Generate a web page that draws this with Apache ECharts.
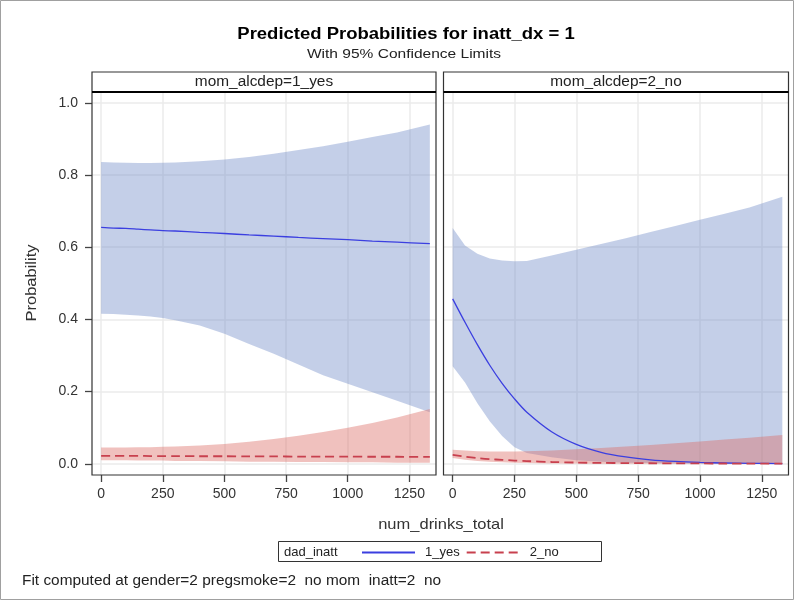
<!DOCTYPE html>
<html>
<head>
<meta charset="utf-8">
<script src="https://cdn.jsdelivr.net/npm/echarts@6/dist/echarts.min.js"></script>
<style>
html,body{margin:0;padding:0;background:#fff;}
#c{width:794px;height:600px;}
</style>
</head>
<body>
<div id="c"></div>
<script>
// ---- data ----
var xs = [0, 50, 100, 150, 200, 250, 300, 400, 500, 600, 700, 800, 900, 1000, 1100, 1200, 1333];
var panels = ['mom_alcdep=1_yes', 'mom_alcdep=2_no'];
var groups = ['1_yes', '2_no'];
var xTicks = [0, 250, 500, 750, 1000, 1250];
var yTicks = [0, 0.2, 0.4, 0.6, 0.8, 1.0];

// panel 1: mom_alcdep=1_yes
var yesFitA   = [.655,.653,.652,.650,.648,.646,.645,.641,.638,.634,.631,.627,.624,.621,.617,.614,.610];
var yesUpperA = [.836,.835,.834,.833,.833,.834,.835,.838,.843,.850,.859,.869,.880,.892,.905,.918,.940];
var yesLowerA = [.416,.415,.413,.411,.408,.404,.398,.383,.360,.332,.305,.275,.245,.222,.198,.175,.143];
var noFitA    = [.022,.022,.022,.022,.0215,.0215,.0215,.021,.021,.0205,.0205,.020,.020,.020,.0195,.0195,.019];
var noUpperA  = [.045,.045,.045,.046,.046,.047,.048,.051,.055,.061,.069,.078,.088,.100,.113,.128,.152];
var noLowerA  = [.010,.010,.010,.009,.009,.009,.008,.008,.007,.006,.006,.005,.005,.004,.004,.003,.003];

// panel 2: mom_alcdep=2_no
var yesFitB   = [.457,.392,.330,.273,.223,.180,.143,.089,.054,.032,.019,.011,.0065,.0038,.0022,.0013,.0006];
var yesUpperB = [.653,.605,.582,.569,.563,.561,.562,.577,.593,.609,.625,.642,.659,.676,.693,.710,.740];
var yesLowerB = [.270,.225,.168,.118,.077,.046,.030,.018,.010,.006,.003,.002,.001,.0006,.0003,.0002,.0001];
var noFitB    = [.025,.020,.016,.013,.011,.009,.0075,.005,.0035,.0025,.002,.0015,.0012,.001,.0008,.0007,.0005];
var noUpperB  = [.039,.037,.035,.034,.034,.034,.035,.037,.040,.044,.048,.052,.057,.062,.067,.072,.080];
var noLowerB  = [.016,.011,.008,.006,.004,.003,.002,.001,.0006,.0003,.0002,.0001,0,0,0,0,0];

var FONT = '"Liberation Sans", Arial, sans-serif';
var BLUE_LINE = '#3b3fe0';
var RED_LINE = '#c8404e';
var BLUE_BAND = 'rgba(115,141,200,0.42)';
var RED_BAND = 'rgba(219,107,100,0.42)';

function pairs(y) { return xs.map(function (x, i) { return [x, y[i]]; }); }

function band(name, idx, lower, upper, color) {
  return {
    type: 'custom', name: name, xAxisIndex: idx, yAxisIndex: idx, silent: true,
    data: [0],
    renderItem: function (params, api) {
      var pts = [];
      for (var i = 0; i < xs.length; i++) pts.push(api.coord([xs[i], upper[i]]));
      for (var j = xs.length - 1; j >= 0; j--) pts.push(api.coord([xs[j], lower[j]]));
      return { type: 'polygon', shape: { points: pts }, style: { fill: color }, silent: true };
    },
    z: 1
  };
}

function fit(name, idx, y, color, dashed) {
  return {
    type: 'line', name: name, xAxisIndex: idx, yAxisIndex: idx,
    data: pairs(y), showSymbol: false, symbol: 'none', smooth: 0.3,
    lineStyle: { color: color, width: dashed ? 1.8 : 1.3, type: dashed ? [9, 5] : 'solid' },
    itemStyle: { color: color },
    z: 3
  };
}

var xMin = -37, xMax = 1358, yMin = -0.031, yMax = 1.03;

function xAxis(idx) {
  return {
    type: 'value', gridIndex: idx, min: xMin, max: xMax,
    axisLine: { show: false, onZero: false },
    axisTick: { show: true, inside: false, customValues: xTicks, length: 7, lineStyle: { color: '#444', width: 1.3 } },
    axisLabel: { customValues: xTicks, fontFamily: FONT, fontSize: 14, color: '#333', margin: 12,
      formatter: function (v) { return String(v); } },
    splitLine: { show: true, lineStyle: { color: '#ebebeb', width: 1.5 } }
  };
}
function yAxis(idx) {
  return {
    type: 'value', gridIndex: idx, min: yMin, max: yMax,
    axisLine: { show: false, onZero: false },
    axisTick: { show: idx === 0, inside: false, customValues: yTicks, length: 7, lineStyle: { color: '#444', width: 1.3 } },
    axisLabel: { show: idx === 0, customValues: yTicks, fontFamily: FONT, fontSize: 14, color: '#333', margin: 14,
      formatter: function (v) { return v.toFixed(1); } },
    splitLine: { show: true, lineStyle: { color: '#ebebeb', width: 1.5 } }
  };
}

var chart = echarts.init(document.getElementById('c'), null, { renderer: 'canvas' });

var panelL = [92, 443.5], panelW = [344, 345];
var graphics = [
  { type: 'rect', shape: { x: 0.5, y: 0.5, width: 793, height: 599 }, style: { fill: 'none', stroke: '#a0a0a0', lineWidth: 1 }, silent: true, z: 0 },
  { type: 'text', x: 406, y: 35, scaleX: 1.155, style: { text: 'Predicted Probabilities for inatt_dx = 1', font: 'bold 16px ' + FONT, fill: '#000', align: 'center', verticalAlign: 'middle' } },
  { type: 'text', x: 404, y: 54, scaleX: 1.15, style: { text: 'With 95% Confidence Limits', font: '13.5px ' + FONT, fill: '#222', align: 'center', verticalAlign: 'middle' } },
  { type: 'text', x: 32, y: 283, rotation: Math.PI / 2, scaleX: 1.1, style: { text: 'Probability', font: '15px ' + FONT, fill: '#333', align: 'center', verticalAlign: 'middle' } },
  { type: 'text', x: 441, y: 525, scaleX: 1.1, style: { text: 'num_drinks_total', font: '15px ' + FONT, fill: '#333', align: 'center', verticalAlign: 'middle' } },
  { type: 'rect', shape: { x: 278.5, y: 541.5, width: 323, height: 20 }, style: { fill: 'none', stroke: '#333', lineWidth: 1 }, silent: true },
  { type: 'text', x: 284, y: 552, style: { text: 'dad_inatt', font: '13px ' + FONT, fill: '#222', align: 'left', verticalAlign: 'middle' } },
  { type: 'text', x: 22, y: 581, scaleX: 1.1, style: { text: 'Fit computed at gender=2 pregsmoke=2  no mom  inatt=2  no', font: '14px ' + FONT, fill: '#222', align: 'left', verticalAlign: 'middle' } }
];
for (var p = 0; p < 2; p++) {
  var L = panelL[p], W = panelW[p];
  graphics.push({ type: 'rect', shape: { x: L, y: 72, width: W, height: 403 }, style: { fill: 'none', stroke: '#333', lineWidth: 1.2 }, silent: true, z: 10 });
  graphics.push({ type: 'line', shape: { x1: L, y1: 92, x2: L + W, y2: 92 }, style: { stroke: '#000', lineWidth: 2 }, silent: true, z: 10 });
  graphics.push({ type: 'text', x: L + W / 2, y: 82, scaleX: 1.1, style: { text: panels[p], font: '14px ' + FONT, fill: '#222', align: 'center', verticalAlign: 'middle' }, z: 10 });
}

chart.setOption({
  animation: false,
  backgroundColor: '#fff',
  grid: [
    { left: panelL[0], top: 92, width: panelW[0], height: 383, show: false },
    { left: panelL[1], top: 92, width: panelW[1], height: 383, show: false }
  ],
  xAxis: [xAxis(0), xAxis(1)],
  yAxis: [yAxis(0), yAxis(1)],
  legend: {
    data: groups, left: 361, top: 546, padding: 0, itemWidth: 53, itemHeight: 12, itemGap: 6,
    itemStyle: { opacity: 0 },
    textStyle: { fontFamily: FONT, fontSize: 13, color: '#222', padding: [0, 0, 0, 5] }, selectedMode: false
  },
  graphic: graphics,
  series: [
    band('1_yes band', 0, yesLowerA, yesUpperA, BLUE_BAND),
    band('2_no band', 0, noLowerA, noUpperA, RED_BAND),
    band('1_yes band', 1, yesLowerB, yesUpperB, BLUE_BAND),
    band('2_no band', 1, noLowerB, noUpperB, RED_BAND),
    fit('1_yes', 0, yesFitA, BLUE_LINE, false),
    fit('2_no', 0, noFitA, RED_LINE, true),
    fit('1_yes', 1, yesFitB, BLUE_LINE, false),
    fit('2_no', 1, noFitB, RED_LINE, true)
  ]
});
</script>
</body>
</html>
